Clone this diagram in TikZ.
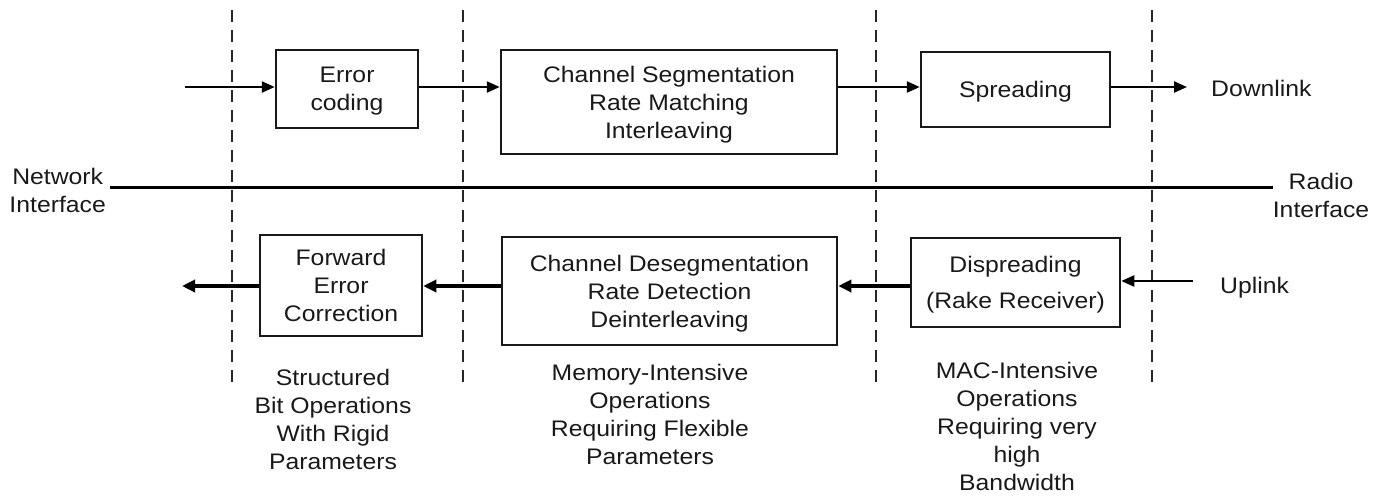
\documentclass[tikz,border=0pt]{standalone}
\usepackage{fontspec}
\setmainfont{Liberation Sans}[FakeStretch=1.1]
\usetikzlibrary{arrows.meta}
\tikzset{
  box/.style={draw=black!90, line width=2.5pt, align=center, inner sep=0pt, text depth=0pt},
  divider/.style={dash pattern=on 12pt off 8pt, line width=2.5pt, black!85},
  flow/.style={line width=2.3pt, -{Triangle[length=13pt,width=11pt]}},
  flowb/.style={line width=3.3pt, -{Triangle[length=13pt,width=12pt]}},
  lbl/.style={align=center, inner sep=0pt},
}
\begin{document}
\begin{tikzpicture}[x=1pt,y=-1pt,font=\fontsize{22.5}{28}\selectfont, text=black!90]
\useasboundingbox (0,0) rectangle (1381,496);
% dividers
\coordinate (d1t) at (232,10); \coordinate (d1b) at (232,382);
\coordinate (d2t) at (463,10); \coordinate (d2b) at (463,382);
\coordinate (d3t) at (876,10); \coordinate (d3b) at (876,382);
\coordinate (d4t) at (1152,10); \coordinate (d4b) at (1152,382);
\draw[divider] (d1t) -- (d1b);
\draw[divider] (d2t) -- (d2b);
\draw[divider] (d3t) -- (d3b);
\draw[divider] (d4t) -- (d4b);
% interface line
\node[lbl, anchor=east] (net) at (106,190) {Network\\Interface};
\node[lbl] (radio) at (1321,195) {Radio\\Interface};
\coordinate (hl) at (110,187); \coordinate (hr) at (1273,187);
\draw[line width=3pt] (hl) -- (hr);
% top row
\node[box, minimum width=142pt, minimum height=78pt] (ec) at (347,89) {Error\\coding};
\node[box, minimum width=336pt, minimum height=104pt] (cs) at (669,102) {Channel Segmentation\\Rate Matching\\Interleaving};
\node[box, minimum width=189pt, minimum height=75pt] (sp) at (1015.5,89.5) {Spreading};
\coordinate (in1) at (185,87);
\coordinate (out1) at (1187,87);
\node[lbl, anchor=west] (dl) at (1211,88) {Downlink};
\draw[flow] (in1) -- (ec.west |- in1);
\draw[flow] (ec.east |- in1) -- (cs.west |- in1);
\draw[flow] (cs.east |- in1) -- (sp.west |- in1);
\draw[flow] (sp.east |- in1) -- (out1);
% bottom row
\node[box, minimum width=162pt, minimum height=101pt] (fec) at (341,285.5) {Forward\\Error\\Correction};
\node[box, minimum width=335pt, minimum height=108pt] (cd) at (669.5,291) {Channel Desegmentation\\Rate Detection\\Deinterleaving};
\node[box, minimum width=209pt, minimum height=89pt] (ds) at (1015.5,282.5) {Dispreading\\[8pt](Rake Receiver)};
\node[lbl, anchor=west] (ul) at (1220,288) {Uplink};
\coordinate (in2) at (1193,281);
\coordinate (out2) at (182,286);
\coordinate (ry) at (0,286);
\draw[flow] (in2) -- (ds.east |- in2);
\draw[flowb] (ds.west |- ry) -- (cd.east |- ry);
\draw[flowb] (cd.west |- ry) -- (fec.east |- ry);
\draw[flowb] (fec.west |- ry) -- (out2);
% bottom labels
\node[lbl, anchor=north] (l1) at (333,369) {Structured\\Bit Operations\\With Rigid\\Parameters};
\node[lbl, anchor=north] (l2) at (650,364) {Memory-Intensive\\Operations\\Requiring Flexible\\Parameters};
\node[lbl, anchor=north] (l3) at (1017,362) {MAC-Intensive\\Operations\\Requiring very\\high\\Bandwidth};
\end{tikzpicture}
\end{document}
